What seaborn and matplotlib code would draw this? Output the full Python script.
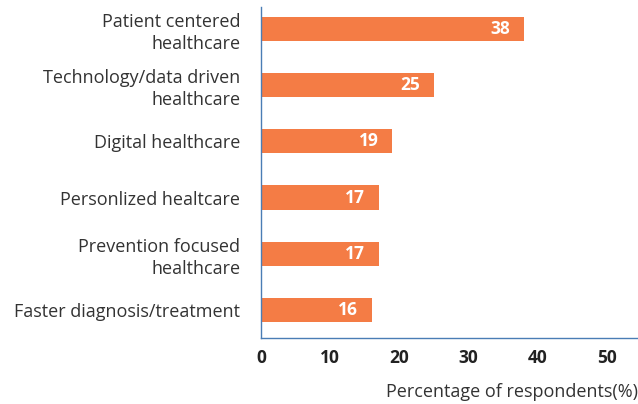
import matplotlib
matplotlib.use("Agg")
import matplotlib.pyplot as plt
import seaborn as sns
import pandas as pd

categories = [
    "Patient centered\nhealthcare",
    "Technology/data driven\nhealthcare",
    "Digital healthcare",
    "Personlized healtcare",
    "Prevention focused\nhealthcare",
    "Faster diagnosis/treatment",
]
values = [38, 25, 19, 17, 17, 16]
x_ticks = [0, 10, 20, 30, 40, 50]

sns.set_theme(style="white")
plt.rcParams["font.family"] = ["Open Sans", "DejaVu Sans"]

df = pd.DataFrame({"category": categories, "value": values})

fig = plt.figure(figsize=(6.38, 4.04), dpi=100)
ax = fig.add_axes([261 / 638, 1 - 338 / 404, (638 - 261) / 638, (338 - 7) / 404])

bar_color = "#F47C45"
axis_color = "#4A7DB5"

sns.barplot(data=df, x="value", y="category", color=bar_color, width=0.43,
            saturation=1, ax=ax, edgecolor="none")

for i, v in enumerate(values):
    ax.annotate(str(v), xy=(v, i), xytext=(-17, 0), textcoords="offset points",
                ha="center", va="center", color="white", fontsize=12.5,
                fontweight="bold")

ax.set_xlim(0, 54.5)
ax.set_ylim(5.5, -0.39)
ax.set_xticks(x_ticks)
ax.set_xticklabels([str(t) for t in x_ticks], fontsize=12.5, fontweight="bold",
                   color="#222222")
ax.set_yticks(range(len(categories)))
ax.set_yticklabels(categories, fontsize=13, color="#333333", linespacing=1.3)
ax.tick_params(axis="x", length=0, pad=8)
ax.tick_params(axis="y", length=0, pad=15)

for side in ["top", "right"]:
    ax.spines[side].set_visible(False)
for side in ["left", "bottom"]:
    ax.spines[side].set_color(axis_color)
    ax.spines[side].set_linewidth(1.0)

ax.set_ylabel("")
ax.set_xlabel("")
fig.text(1.0, 1 - 392 / 404, "Percentage of respondents(%)", ha="right",
         va="center", fontsize=13, color="#333333")

fig.savefig("out.png", dpi=100)
